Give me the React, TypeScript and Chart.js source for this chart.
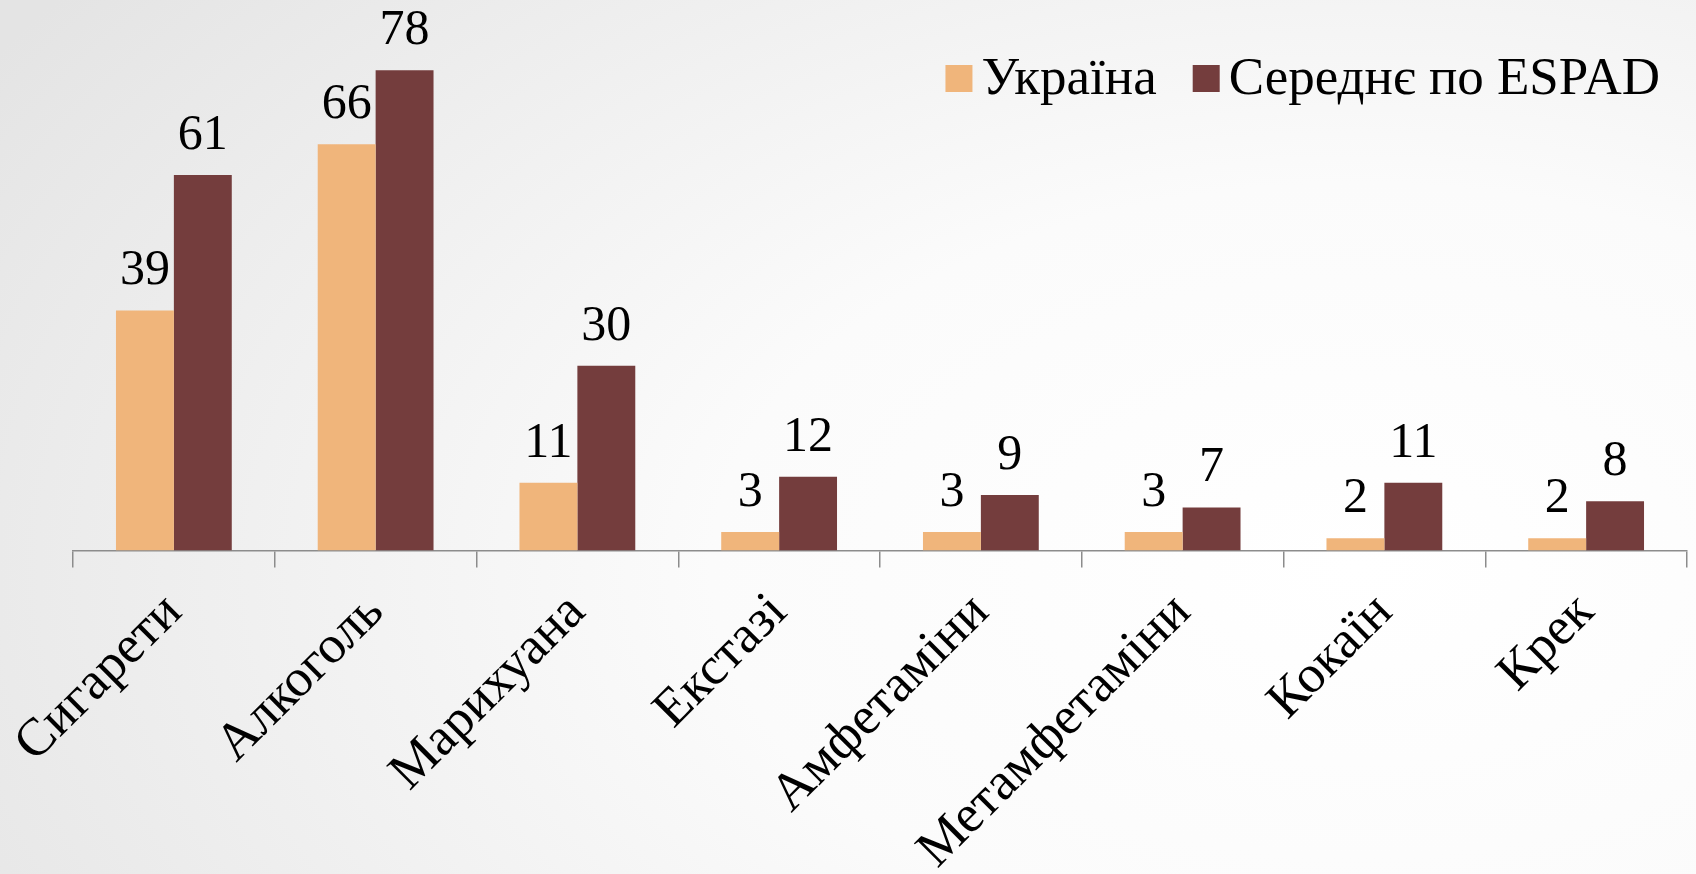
import React, { useEffect, useRef } from "react";
import { Chart, registerables } from "chart.js";

Chart.register(...registerables);

const categories = [
  "Сигарети",
  "Алкоголь",
  "Марихуана",
  "Екстазі",
  "Амфетаміни",
  "Метамфетаміни",
  "Кокаїн",
  "Крек",
];
const ukraineValues = [39, 66, 11, 3, 3, 3, 2, 2];
const espadValues = [61, 78, 30, 12, 9, 7, 11, 8];
const seriesNames = ["Україна", "Середнє по ESPAD"];
const seriesColors = ["#F0B57B", "#743D3D"];
const yMax = 80;

const FONT = "'Liberation Serif', 'DejaVu Serif', serif";
const W = 1696;
const H = 874;
const AXIS_Y = 550.5;

const valueLabelPlugin = {
  id: "valueLabels",
  afterDatasetsDraw(chart: any) {
    const ctx = chart.ctx;
    ctx.save();
    ctx.fillStyle = "#000";
    ctx.font = `50px ${FONT}`;
    ctx.textAlign = "center";
    ctx.textBaseline = "alphabetic";
    chart.data.datasets.forEach((ds: any, di: number) => {
      const meta = chart.getDatasetMeta(di);
      meta.data.forEach((bar: any, i: number) => {
        ctx.fillText(String(ds.data[i]), bar.x, bar.y - 26);
      });
    });
    ctx.restore();
  },
};

const legendPlugin = {
  id: "customLegend",
  afterDraw(chart: any) {
    const ctx = chart.ctx;
    ctx.save();
    ctx.font = `53px ${FONT}`;
    ctx.textBaseline = "middle";
    ctx.textAlign = "left";
    const box = 27;
    const gapBoxText = 9;
    const gapItems = 36;
    const items = chart.data.datasets.map((ds: any) => ({
      label: ds.label,
      color: ds.backgroundColor,
      w: ctx.measureText(ds.label).width,
    }));
    let total = 0;
    items.forEach((it: any, i: number) => {
      total += box + gapBoxText + it.w + (i < items.length - 1 ? gapItems : 0);
    });
    let x = chart.chartArea.right - 27 - total;
    const cy = 78.5;
    items.forEach((it: any) => {
      ctx.fillStyle = it.color;
      ctx.fillRect(x, cy - box / 2, box, box);
      x += box + gapBoxText;
      ctx.fillStyle = "#000";
      ctx.fillText(it.label, x, cy + 2);
      x += it.w + gapItems;
    });
    ctx.restore();
  },
};

export default function App() {
  const canvasRef = useRef<HTMLCanvasElement | null>(null);

  useEffect(() => {
    document.body.style.margin = "0";
    const canvas = canvasRef.current;
    if (!canvas) return;
    const chart = new Chart(canvas, {
      type: "bar",
      data: {
        labels: categories,
        datasets: [
          {
            label: seriesNames[0],
            data: ukraineValues,
            backgroundColor: seriesColors[0],
            categoryPercentage: 0.574,
            barPercentage: 1.0,
          },
          {
            label: seriesNames[1],
            data: espadValues,
            backgroundColor: seriesColors[1],
            categoryPercentage: 0.574,
            barPercentage: 1.0,
          },
        ],
      },
      options: {
        responsive: false,
        animation: false,
        devicePixelRatio: 1,
        layout: { padding: { top: 58, left: 73, right: 9, bottom: 0 } },
        plugins: {
          legend: { display: false },
          tooltip: { enabled: false },
        },
        scales: {
          x: {
            offset: true,
            grid: {
              offset: true,
              drawOnChartArea: false,
              drawTicks: true,
              tickLength: 17,
              color: "#8c8c8c",
              lineWidth: 1.5,
            },
            border: { display: true, color: "#8c8c8c", width: 1.5 },
            ticks: {
              color: "#000",
              font: { family: FONT, size: 53 },
              minRotation: 45,
              maxRotation: 45,
              autoSkip: false,
              padding: 14,
            },
            afterFit(scale: any) {
              scale.height = H - AXIS_Y;
              scale.paddingLeft = 0;
              scale.paddingRight = 0;
            },
          },
          y: {
            display: false,
            min: 0,
            max: yMax,
          },
        },
      },
      plugins: [valueLabelPlugin, legendPlugin],
    });
    return () => chart.destroy();
  }, []);

  return (
    <div
      style={{
        width: W,
        height: H,
        background:
          "radial-gradient(ellipse 95% 110% at 80% 65%, #ffffff 0%, #fbfbfb 40%, #e4e4e4 100%)",
      }}
    >
      <canvas ref={canvasRef} width={W} height={H} style={{ display: "block" }} />
    </div>
  );
}
